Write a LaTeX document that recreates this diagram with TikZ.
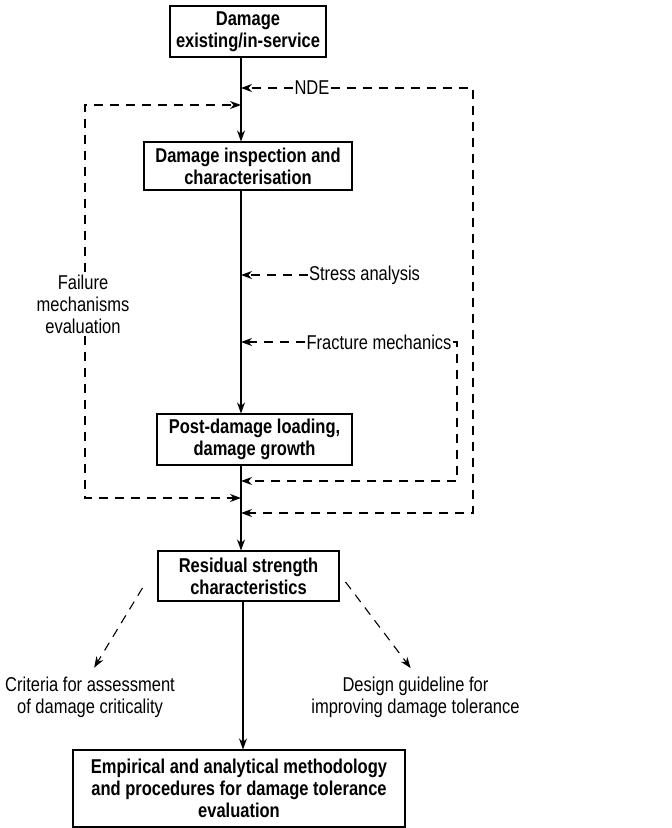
\documentclass[tikz,border=0pt]{standalone}
\usepackage{fontspec}
\setmainfont{Liberation Sans}[FakeStretch=0.825]
\usepackage{tikz}
\usetikzlibrary{arrows.meta}
\usetikzlibrary{calc}

\begin{document}
\begin{tikzpicture}[x=1pt,y=1pt,yscale=-1,xscale=1,
  every node/.style={font=\fontsize{20}{22}\selectfont, inner sep=2pt},
  box/.style={draw, line width=1.1pt, align=center, font=\fontsize{20}{22}\selectfont\bfseries},
  lbl/.style={align=center},
  flow/.style={line width=1.1pt, -{Stealth[length=11pt,width=8pt,inset=3.5pt]}},
  feed/.style={line width=1.1pt, dash pattern=on 9pt off 7pt, -{Stealth[length=11pt,width=8pt,inset=3.5pt]}}]
\useasboundingbox (0,0) rectangle (672,828);

%Shape: Rectangle
\node (dmg) [box, minimum width=156pt, minimum height=51pt] at (248,31.5) {Damage\\existing/in-service};
%Shape: Rectangle
\node (insp) [box, minimum width=208pt, minimum height=48pt] at (248,166) {Damage inspection and\\characterisation};
%Shape: Rectangle
\node (post) [box, minimum width=195pt, minimum height=51pt] at (254.5,439.5) {Post-damage loading,\\damage growth};
%Shape: Rectangle
\node (resid) [box, minimum width=181pt, minimum height=50pt] at (248.5,576) {Residual strength\\characteristics};
%Shape: Rectangle
\node (emp) [box, minimum width=332pt, minimum height=77pt] at (239,788.5) {Empirical and analytical methodology\\and procedures for damage tolerance\\evaluation};

% Text Node
\node (nde) [inner sep=1pt] at (312,88) {NDE};
% Text Node
\node (stress) [inner sep=1pt] at (364.5,275) {Stress analysis};
% Text Node
\node (frac) [inner sep=1pt] at (379,342) {Fracture mechanics};
% Text Node
\node (fail) [lbl] at (83,304) {Failure\\mechanisms\\evaluation};
% Text Node
\node (crit) [lbl] at (90,697) {Criteria for assessment\\of damage criticality};
% Text Node
\node (dsgn) [lbl] at (415.5,697) {Design guideline for\\improving damage tolerance};

%Corners
\coordinate (spine) at (241,0);
\coordinate (spineb) at (243,0);
\coordinate (ndeR) at (473,88);
\coordinate (ndeB) at (473,513);
\coordinate (failT) at (85,105);
\coordinate (failB) at (85,498);
\coordinate (fracR) at (457,342);
\coordinate (fracB) at (457,481);

%Straight Lines
\draw [flow] (dmg.south -| spine) -- (insp.north -| spine);
\draw [flow] (insp.south -| spine) -- (post.north -| spine);
\draw [flow] (post.south -| spine) -- (resid.north -| spine);
\draw [flow] (resid.south -| spineb) -- (emp.north -| spineb);

%Dashed Lines
\draw [feed] (nde.west) -- (nde.west -| spine);
\draw [feed] (nde.east) -- (ndeR) -- (ndeB) -- (ndeB -| spine);
\draw [feed] (fail.north -| failT) -- (failT) -- (failT -| spine);
\draw [feed] (fail.south -| failB) -- (failB) -- (failB -| spine);
\draw [feed] (stress.west) -- (stress.west -| spine);
\draw [feed] (frac.west) -- (frac.west -| spine);
\draw [feed] (frac.east) -- (fracR) -- (fracB) -- (fracB -| spine);
\draw [feed, shorten >=8pt] ($(resid.west)+(-15,12)$) -- (crit.north);
\draw [feed, shorten >=8pt] ($(resid.east)+(6,6)$) -- (dsgn.north);

\end{tikzpicture}
\end{document}
